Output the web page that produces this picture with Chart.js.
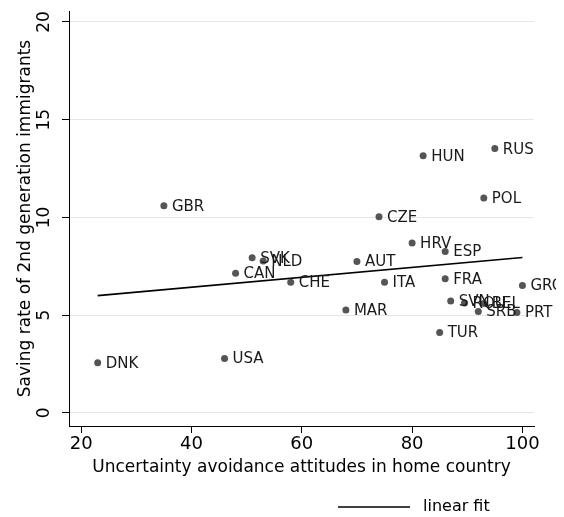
<!DOCTYPE html>
<html>
<head>
<meta charset="utf-8">
<script src="https://cdn.jsdelivr.net/npm/chart.js@4/dist/chart.umd.min.js"></script>
<style>
  html, body { margin: 0; padding: 0; background: #fff; }
  #wrap { width: 564px; height: 517px; }
</style>
</head>
<body>
<div id="wrap"><canvas id="chart"></canvas></div>
<script>
'use strict';

// countries and values
const countries = ['DNK', 'USA', 'GBR', 'CAN', 'SVK', 'NLD', 'CHE', 'AUT', 'CZE', 'HRV', 'ITA', 'MAR',
  'TUR', 'ESP', 'FRA', 'HUN', 'RUS', 'POL', 'GRC', 'SVN', 'ROU', 'BEL', 'SRB', 'PRT'];
const uncertainty = [23, 46, 35, 48, 51, 53, 58, 70, 74, 80, 75, 68,
  85, 86, 86, 82, 95, 93, 100, 87, 89.5, 93, 92, 99];
const savingRate = [2.56, 2.78, 10.6, 7.15, 7.94, 7.77, 6.69, 7.75, 10.04, 8.69, 6.69, 5.27,
  4.11, 8.26, 6.86, 13.16, 13.52, 10.99, 6.52, 5.73, 5.62, 5.6, 5.19, 5.14];

// fitted line, end points
const fitX = [23, 100];
const fitY = [6.0, 7.95];

const xTicks = [20, 40, 60, 80, 100];
const yTicks = [0, 5, 10, 15, 20];

const FONT = 'DejaVu Sans';

const pointLabels = {
  id: 'pointLabels',
  afterDatasetsDraw(chart) {
    const ctx = chart.ctx;
    const meta = chart.getDatasetMeta(0);
    ctx.save();
    // labels get cut a little before the right edge, as in the source graph
    ctx.beginPath();
    ctx.rect(0, 0, 556, chart.height);
    ctx.clip();
    ctx.font = '15px "' + FONT + '"';
    ctx.fillStyle = '#1a1a1a';
    ctx.textAlign = 'left';
    ctx.textBaseline = 'middle';
    meta.data.forEach((pt, i) => {
      ctx.fillText(countries[i], pt.x + 8, pt.y + 1);
    });
    ctx.restore();
  }
};

const fitLegend = {
  id: 'fitLegend',
  afterDraw(chart) {
    const ctx = chart.ctx;
    ctx.save();
    ctx.strokeStyle = '#000';
    ctx.lineWidth = 1.5;
    ctx.beginPath();
    ctx.moveTo(338, 507);
    ctx.lineTo(410, 507);
    ctx.stroke();
    ctx.font = '16px "' + FONT + '"';
    ctx.fillStyle = '#000';
    ctx.textBaseline = 'middle';
    ctx.fillText(chart.data.datasets[1].label, 423, 507);
    ctx.restore();
  }
};

function onContentLoad() {
  const canvas = document.getElementById('chart');

  new Chart(canvas.getContext('2d'), {
    data: {
      datasets: [
        {
          type: 'scatter',
          label: 'countries',
          data: uncertainty.map((x, i) => ({ x: x, y: savingRate[i] })),
          backgroundColor: '#555555',
          borderColor: '#555555',
          pointRadius: 3.5,
          borderWidth: 0
        },
        {
          type: 'line',
          label: 'linear fit',
          data: fitX.map((x, i) => ({ x: x, y: fitY[i] })),
          borderColor: '#000',
          borderWidth: 1.6,
          pointRadius: 0,
          fill: false
        }
      ]
    },
    options: {
      responsive: true,
      maintainAspectRatio: false,
      animation: false,
      layout: { padding: { top: 11, right: 30, bottom: 31, left: 0 } },
      plugins: {
        legend: { display: false },
        tooltip: { enabled: false }
      },
      scales: {
        x: {
          type: 'linear',
          min: 17.8,
          max: 102.1,
          afterBuildTicks: (scale) => { scale.ticks = xTicks.map(v => ({ value: v })); },
          afterFit: (scale) => {
            scale.height = 60;
            scale.paddingLeft = 0;
            scale.paddingRight = 0;
          },
          border: { color: '#000', width: 1 },
          grid: { drawOnChartArea: false, tickLength: 7, tickColor: '#000' },
          ticks: { color: '#000', font: { family: FONT, size: 18 }, padding: 1, maxRotation: 0 },
          title: {
            display: true,
            text: 'Uncertainty avoidance attitudes in home country',
            color: '#000',
            font: { family: FONT, size: 17 },
            padding: { top: 0, bottom: 8 }
          }
        },
        y: {
          type: 'linear',
          min: -0.67,
          max: 20.56,
          afterBuildTicks: (scale) => { scale.ticks = yTicks.map(v => ({ value: v })); },
          afterFit: (scale) => {
            scale.width = 69;
            scale.paddingTop = 0;
            scale.paddingBottom = 0;
          },
          border: { color: '#000', width: 1 },
          grid: { color: '#e6e6e6', lineWidth: 1, tickLength: 7, tickColor: '#000' },
          ticks: {
            color: '#000',
            font: { family: FONT, size: 17 },
            minRotation: 90,
            maxRotation: 90,
            crossAlign: 'center',
            padding: 7
          },
          title: {
            display: true,
            text: 'Saving rate of 2nd generation immigrants',
            color: '#000',
            font: { family: FONT, size: 17 },
            padding: { top: 15, bottom: 0 }
          }
        }
      }
    },
    plugins: [pointLabels, fitLegend]
  });
}

document.addEventListener('DOMContentLoaded', onContentLoad);
</script>
</body>
</html>
